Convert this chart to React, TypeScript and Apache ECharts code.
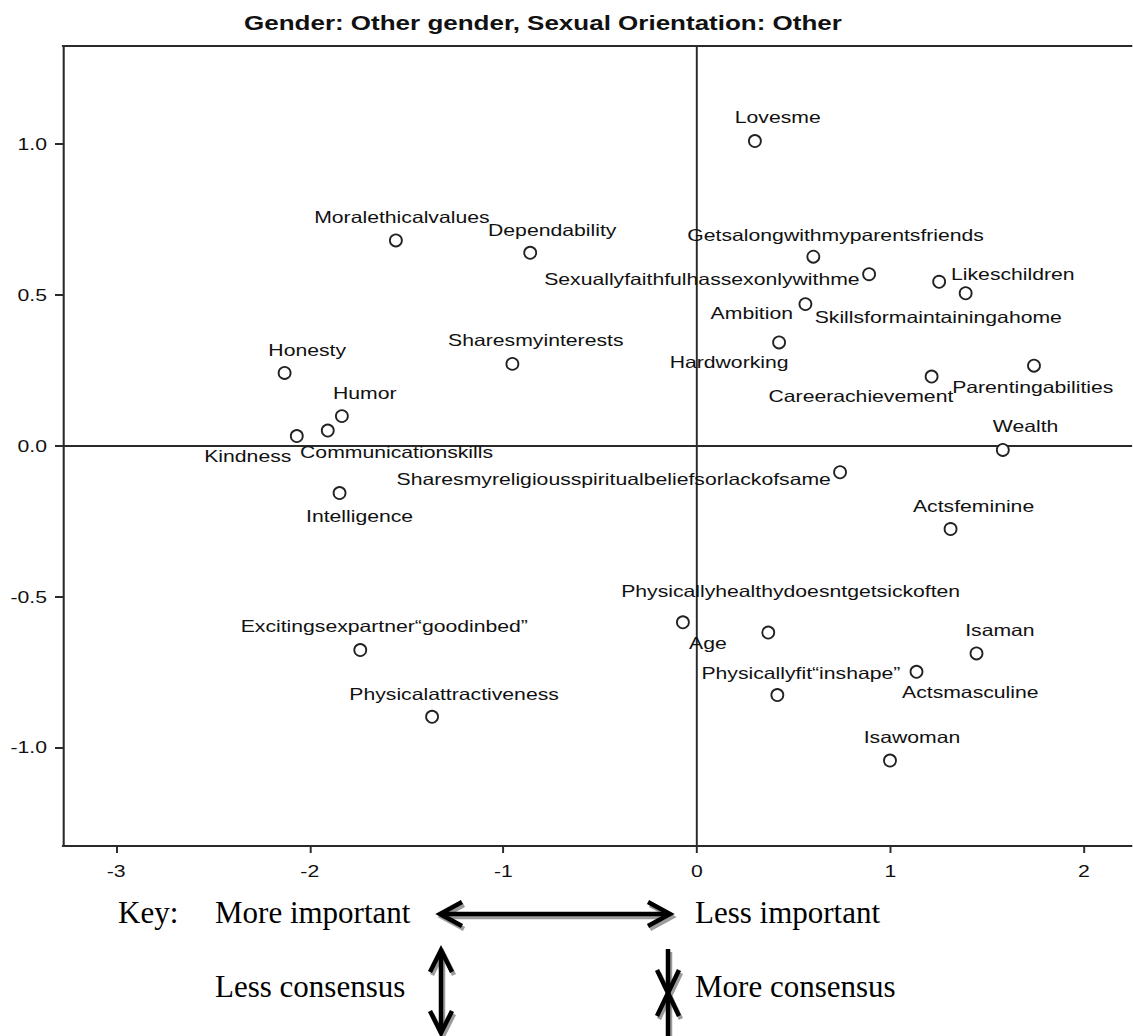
import React, { useEffect, useRef } from "react";
import * as echarts from "echarts";

// ---------- data ----------
const TITLE = "Gender: Other gender, Sexual Orientation: Other";

const names: string[] = [
  "Lovesme",
  "Moralethicalvalues",
  "Dependability",
  "Getsalongwithmyparentsfriends",
  "Sexuallyfaithfulhassexonlywithme",
  "Likeschildren",
  "Skillsformaintainingahome",
  "Ambition",
  "Hardworking",
  "Honesty",
  "Sharesmyinterests",
  "Careerachievement",
  "Parentingabilities",
  "Humor",
  "Communicationskills",
  "Kindness",
  "Wealth",
  "Sharesmyreligiousspiritualbeliefsorlackofsame",
  "Intelligence",
  "Actsfeminine",
  "Age",
  "Physicallyhealthydoesntgetsickoften",
  "Excitingsexpartner\u201Cgoodinbed\u201D",
  "Isaman",
  "Actsmasculine",
  "Physicallyfit\u201Cinshape\u201D",
  "Physicalattractiveness",
  "Isawoman",
];

const xs: number[] = [
  0.3, -1.555, -0.861, 0.602, 0.89, 1.252, 1.389, 0.561, 0.425, -2.13,
  -0.953, 1.213, 1.742, -1.834, -1.907, -2.067, 1.581, 0.74, -1.846, 1.311,
  -0.072, 0.369, -1.739, 1.445, 1.135, 0.416, -1.368, 0.998,
];

const ys: number[] = [
  1.01, 0.681, 0.64, 0.627, 0.569, 0.544, 0.506, 0.47, 0.343, 0.242,
  0.272, 0.23, 0.266, 0.099, 0.051, 0.033, -0.013, -0.087, -0.156, -0.275,
  -0.584, -0.618, -0.676, -0.687, -0.748, -0.825, -0.897, -1.042,
];

const xTicks: number[] = [-3, -2, -1, 0, 1, 2];
const yTicks: number[] = [-1, -0.5, 0, 0.5, 1];

// label placement relative to each marker (page pixels): dx, dy, anchor
const labelPlacement: [number, number, string][] = [
  [22.8, -23.2, "center"],
  [6, -22.6, "center"],
  [22, -22.7, "center"],
  [22.3, -21, "center"],
  [-9.5, 4.7, "right"],
  [11.9, -7.7, "left"],
  [-27.4, 24, "center"],
  [-53.6, 9.3, "center"],
  [-50, 20.3, "center"],
  [22.6, -22.3, "center"],
  [23.4, -23, "center"],
  [-70.7, 20, "center"],
  [-1.2, 21.7, "center"],
  [22.8, -22.7, "center"],
  [68.8, 22, "center"],
  [-49, 20, "center"],
  [22.8, -24, "center"],
  [-9.2, 7, "right"],
  [20, 23, "center"],
  [23, -23, "center"],
  [25, 21.3, "center"],
  [22.4, -41, "center"],
  [24, -24, "center"],
  [23.4, -23.3, "center"],
  [53.8, 20.6, "center"],
  [23.5, -21.7, "center"],
  [22, -22.4, "center"],
  [22, -23.4, "center"],
];

const keyTexts: [string, number, number][] = [
  ["Key:", 118, 0],
  ["More important", 215, 0],
  ["Less important", 695, 0],
  ["Less consensus", 215, 1],
  ["More consensus", 695, 1],
];

// ---------- layout ----------
const S = 1.3; // horizontal stretch of the plot image
const CHART_W = 871;
const PAGE_W = 1133;
const PAGE_H = 1036;
const X_MIN = -3.275;
const X_MAX = 2.25;
const Y_MIN = -1.325;
const Y_MAX = 1.325;
const PX_PER_X = 194.5;
const PLOT_LEFT = 63;
const PLOT_TOP = 46;
const PLOT_H = 800;
const SANS = '"Liberation Sans", Arial, sans-serif';
const SERIF = '"Liberation Serif", "Times New Roman", serif';
const INK = "#111";
const LINE = "#2a2a2a";

function mainOption(): any {
  const data = names.map((n, i) => {
    const [dx, dy, al] = labelPlacement[i];
    return {
      name: n,
      value: [xs[i], ys[i]],
      label: {
        position: "inside",
        align: al,
        verticalAlign: "middle",
        offset: [dx / S, dy],
      },
    };
  });
  return {
    animation: false,
    backgroundColor: "#ffffff",
    grid: {
      left: PLOT_LEFT / S,
      top: PLOT_TOP,
      width: ((X_MAX - X_MIN) * PX_PER_X) / S,
      height: PLOT_H,
      show: false,
    },
    graphic: [
      {
        type: "text",
        x: 244 / S,
        y: 23,
        style: {
          text: TITLE,
          font: `bold 20px ${SANS}`,
          fill: INK,
          align: "left",
          verticalAlign: "middle",
          textAlign: "left",
          textVerticalAlign: "middle",
        },
      },
    ],
    xAxis: [
      {
        type: "value",
        min: X_MIN,
        max: X_MAX,
        position: "bottom",
        splitLine: { show: false },
        axisLine: { show: true, onZero: false, lineStyle: { color: LINE, width: 2 } },
        axisTick: {
          show: true,
          inside: false,
          length: 7,
          customValues: xTicks,
          lineStyle: { color: LINE, width: 1.5 },
        },
        axisLabel: {
          show: true,
          customValues: xTicks,
          margin: 17,
          color: INK,
          fontSize: 16.3,
          fontFamily: SANS,
          formatter: (v: number) => String(v),
        },
      },
      {
        type: "value",
        min: X_MIN,
        max: X_MAX,
        position: "top",
        splitLine: { show: false },
        axisLine: { show: true, onZero: false, lineStyle: { color: LINE, width: 2 } },
        axisTick: { show: false },
        axisLabel: { show: false },
      },
    ],
    yAxis: {
      type: "value",
      min: Y_MIN,
      max: Y_MAX,
      splitLine: { show: false },
      axisLine: { show: true, onZero: false, lineStyle: { color: LINE, width: 1.6 } },
      axisTick: {
        show: true,
        inside: false,
        length: 8 / S,
        customValues: yTicks,
        lineStyle: { color: LINE, width: 2 },
      },
      axisLabel: {
        show: true,
        customValues: yTicks,
        margin: 16 / S,
        color: INK,
        fontSize: 16.3,
        fontFamily: SANS,
        formatter: (v: number) => v.toFixed(1),
      },
    },
    series: [
      {
        type: "scatter",
        xAxisIndex: 0,
        yAxisIndex: 0,
        z: 5,
        symbol: "circle",
        symbolSize: [12 / S, 12],
        itemStyle: { color: "#ffffff", borderColor: "#222", borderWidth: 1.6, opacity: 1 },
        label: {
          show: true,
          formatter: "{b}",
          color: INK,
          fontSize: 16.3,
          fontFamily: SANS,
        },
        emphasis: { disabled: true },
        data,
        markLine: {
          silent: true,
          symbol: ["none", "none"],
          label: { show: false },
          animation: false,
          z: 1,
          lineStyle: { color: LINE, type: "solid", width: 2 },
          data: [
            { xAxis: 0, lineStyle: { color: LINE, type: "solid", width: 1.5 } },
            { yAxis: 0, lineStyle: { color: LINE, type: "solid", width: 2 } },
          ],
        },
      },
    ],
  };
}

function keyOption(): any {
  const g: any[] = [];
  const lw = 4.5;
  const shapes: number[][][] = [
    // horizontal double arrow
    [[443, 64], [667, 64]],
    [[462, 52], [440, 64], [462, 76]],
    [[648, 52], [670, 64], [648, 76]],
    // vertical double arrow (less consensus)
    [[441, 101], [441, 182]],
    [[430, 122], [441, 100], [452, 122]],
    [[430, 161], [441, 183], [452, 161]],
    // converging arrows (more consensus)
    [[668, 99], [668, 142]],
    [[657, 120], [668, 143], [679, 120]],
    [[668, 144], [668, 192]],
    [[657, 166], [668, 143], [679, 166]],
  ];
  shapes.forEach((pts) => {
    g.push({
      type: "polyline",
      shape: { points: pts.map(([x, y]) => [x + 2, y + 3]) },
      style: { stroke: "#9c9c9c", lineWidth: lw, fill: null, lineJoin: "miter" },
      z: 1,
    });
  });
  shapes.forEach((pts) => {
    g.push({
      type: "polyline",
      shape: { points: pts },
      style: { stroke: "#000", lineWidth: lw, fill: null, lineJoin: "miter" },
      z: 2,
    });
  });
  keyTexts.forEach(([t, x, row]) => {
    g.push({
      type: "text",
      x,
      y: row === 0 ? 62.5 : 136.5,
      z: 3,
      style: {
        text: t,
        font: `31px ${SERIF}`,
        fill: "#000",
        align: "left",
        verticalAlign: "middle",
        textAlign: "left",
        textVerticalAlign: "middle",
      },
    });
  });
  return { animation: false, backgroundColor: "transparent", graphic: g };
}

export default function App() {
  const mainRef = useRef<HTMLDivElement>(null);
  const keyRef = useRef<HTMLDivElement>(null);

  useEffect(() => {
    if (!mainRef.current || !keyRef.current) return;
    const c1 = echarts.init(mainRef.current, undefined, { renderer: "svg" });
    c1.setOption(mainOption());
    const c2 = echarts.init(keyRef.current, undefined, { renderer: "svg" });
    c2.setOption(keyOption());
    return () => {
      c1.dispose();
      c2.dispose();
    };
  }, []);

  return (
    <div
      style={{
        position: "absolute",
        left: 0,
        top: 0,
        width: PAGE_W,
        height: PAGE_H,
        overflow: "hidden",
        background: "#fff",
      }}
    >
      <div
        ref={mainRef}
        style={{
          position: "absolute",
          left: 0,
          top: 0,
          width: CHART_W,
          height: PAGE_H,
          transform: `scaleX(${S})`,
          transformOrigin: "0 0",
        }}
      />
      <div
        ref={keyRef}
        style={{
          position: "absolute",
          left: 0,
          top: 850,
          width: PAGE_W,
          height: PAGE_H - 850,
        }}
      />
    </div>
  );
}
